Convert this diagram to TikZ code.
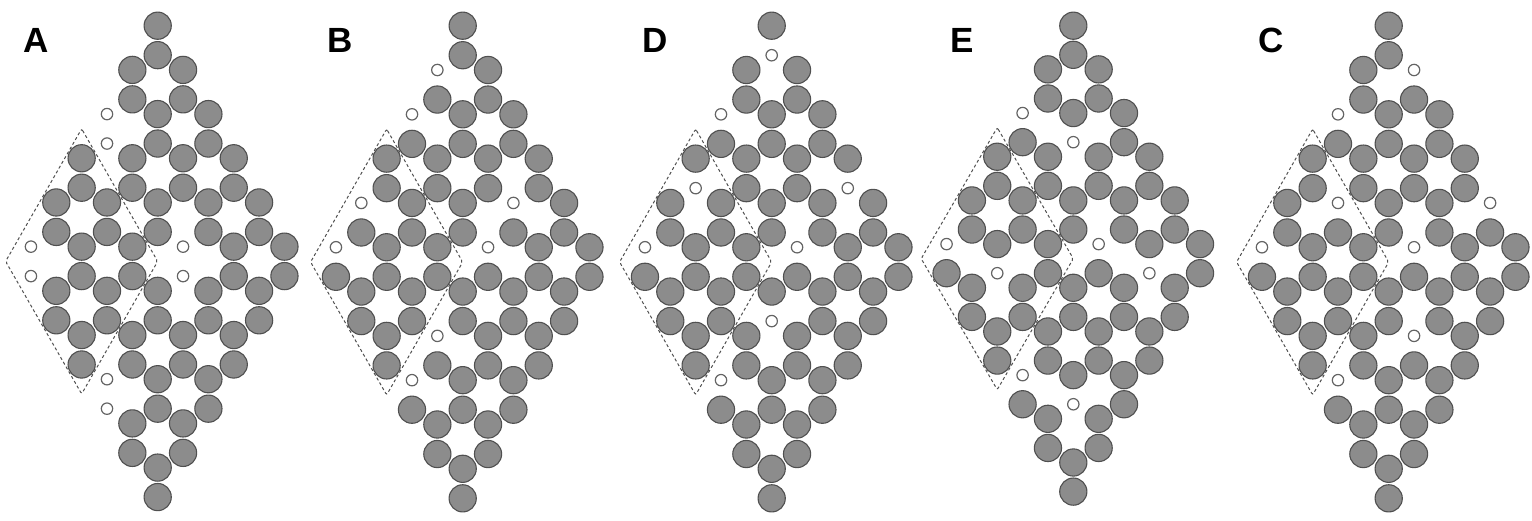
\documentclass[tikz,border=0pt]{standalone}
\usepackage{fontspec}
\setmainfont{Liberation Sans}
\usepackage{xstring}
\usetikzlibrary{positioning}

\definecolor{atomfill}{RGB}{140,140,140}
\definecolor{atomline}{RGB}{80,80,80}
\definecolor{vacline}{RGB}{100,100,100}
\definecolor{cellline}{RGB}{80,80,80}

% #1 panel name, #2 x of the middle column, #3 vertical step, #4 vacant sites
\newcommand{\latticepanel}[4]{%
  \begin{scope}[shift={(#2,25.7)}, x=25.35pt, y=-#3pt]
    \foreach \col in {-5,...,5} {
      \pgfmathtruncatemacro{\npair}{5-abs(\col)}
      \foreach \j in {0,...,\npair} {
        \pgfmathtruncatemacro{\rowa}{3*abs(\col)+6*\j}
        \pgfmathtruncatemacro{\rowb}{\rowa+2}
        \foreach \row in {\rowa,\rowb} {
          \IfSubStr{,#4,}{,\col/\row,}
            {\node[vac] (#1-\col-\row) at (\col,\row) {};}
            {\node[atom] (#1-\col-\row) at (\col,\row) {};}
        }
      }
    }
    \draw[cell] (-3,7) -- (0,16) -- (-3,25) -- (-6,16) -- cycle;
  \end{scope}
}

\begin{document}
\begin{tikzpicture}[x=1pt, y=-1pt,
  atom/.style={circle, draw=atomline, fill=atomfill, line width=1.1pt, minimum size=27.2pt, inner sep=0pt},
  vac/.style={circle, draw=vacline, fill=white, line width=1.2pt, minimum size=11.4pt, inner sep=0pt},
  cell/.style={draw=cellline, dash pattern=on 3pt off 2.5pt, line width=1pt, rounded corners=2pt},
  tag/.style={anchor=base west, inner sep=0pt, font=\fontsize{35}{35}\selectfont\bfseries},
]
\useasboundingbox (0,0) rectangle (1532,521);

\latticepanel{A}{157.7}{14.73}{-2/6,-2/8,-5/15,-5/17,1/15,1/17,-2/24,-2/26}
\latticepanel{B}{462.7}{14.77}{-1/3,-2/6,-4/12,2/12,-5/15,1/15,-1/21,-2/24}
\latticepanel{D}{771.7}{14.77}{0/2,-2/6,-3/11,3/11,-5/15,1/15,0/20,-2/24}
\latticepanel{E}{1073.3}{14.56}{-2/6,0/8,-5/15,1/15,-3/17,3/17,-2/24,0/26}
\latticepanel{C}{1388.7}{14.77}{1/3,-2/6,-2/12,4/12,-5/15,1/15,1/21,-2/24}

\node[tag] (tagA) at (23,53) {A};
\node[tag] (tagB) at (327,53) {B};
\node[tag] (tagD) at (642,53) {D};
\node[tag] (tagE) at (950,53) {E};
\node[tag] (tagC) at (1258,53) {C};
\end{tikzpicture}
\end{document}
